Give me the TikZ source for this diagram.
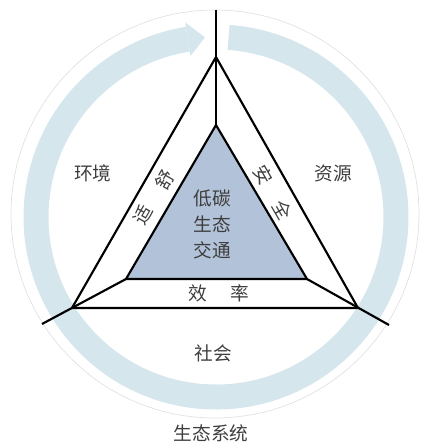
\documentclass[tikz,border=0pt]{standalone}
\usepackage{fontspec}
\newfontfamily\cjk{Noto Sans CJK SC}

\definecolor{ringblue}{RGB}{214,230,237}
\definecolor{corefill}{RGB}{178,194,216}
\definecolor{txtgray}{RGB}{62,62,62}

\tikzset{every picture/.style={line width=0.75pt}}
\tikzset{
  edge/.style={line width=1.6pt, line join=miter},
  lbl/.style={inner sep=0.75pt, text=txtgray, font=\cjk\fontsize{14}{16}\selectfont},
}

\begin{document}
\begin{tikzpicture}[x=0.75pt,y=0.75pt,yscale=-1,xscale=1]
\useasboundingbox (0,0) rectangle (421,447);

%Centre of the ring
\coordinate (c) at (216,217);
%Outer triangle
\coordinate (oT) at (216,57);
\coordinate (oL) at (72,308);
\coordinate (oR) at (358,308);
%Inner triangle
\coordinate (iT) at (216,125);
\coordinate (iL) at (126,279);
\coordinate (iR) at (307,279);
%Free ends of the spokes
\coordinate (eT) at (216,10);
\coordinate (eL) at (42,324);
\coordinate (eR) at (389,325);

%Shape: Circle [thin rim]
\draw [color=black!12, line width=0.5pt] (215,214) circle [radius=204];
%Shape: Arc [ring, clockwise]
\draw [color=ringblue, line width=18.75pt] ([shift={(-86:180)}]c) arc [start angle=-86, end angle=261, radius=180];
%Shape: Triangle [arrow head of the ring]
\fill [color=ringblue] ([shift={(261:197)}]c) -- ([shift={(266.5:180)}]c) -- ([shift={(261:163)}]c) -- cycle;

%Shape: Triangle [core]
\fill [color=corefill] (iT) -- (iL) -- (iR) -- cycle;
%Straight Lines
\draw [edge] (oT) -- (oL) -- (oR) -- cycle;
\draw [edge] (iT) -- (iL) -- (iR) -- cycle;
\draw [edge] (iT) -- (eT);
\draw [edge] (iL) -- (eL);
\draw [edge] (iR) -- (eR);

% Text Node
\draw (93,173) node [lbl] (env) {环境};
% Text Node
\draw (333,173) node [lbl] (res) {资源};
% Text Node
\draw (213,353) node [lbl] (soc) {社会};
% Text Node
\draw (211,433) node [lbl] (eco) {生态系统};
% Text Node
\draw (212,198) node [lbl] (core1) {低碳};
% Text Node
\draw (212,224) node [lbl] (core2) {生态};
% Text Node
\draw (212,250) node [lbl] (core3) {交通};
% Text Node
\draw (165,180) node [lbl, rotate=60] (shu) {舒};
% Text Node
\draw (143,215) node [lbl, rotate=60] (shi) {适};
% Text Node
\draw (263,175) node [lbl, rotate=-60] (an) {安};
% Text Node
\draw (283,210) node [lbl, rotate=-60] (quan) {全};
% Text Node
\draw (198,293) node [lbl] (xiao) {效};
% Text Node
\draw (240,293) node [lbl] (lv) {率};

\end{tikzpicture}
\end{document}
